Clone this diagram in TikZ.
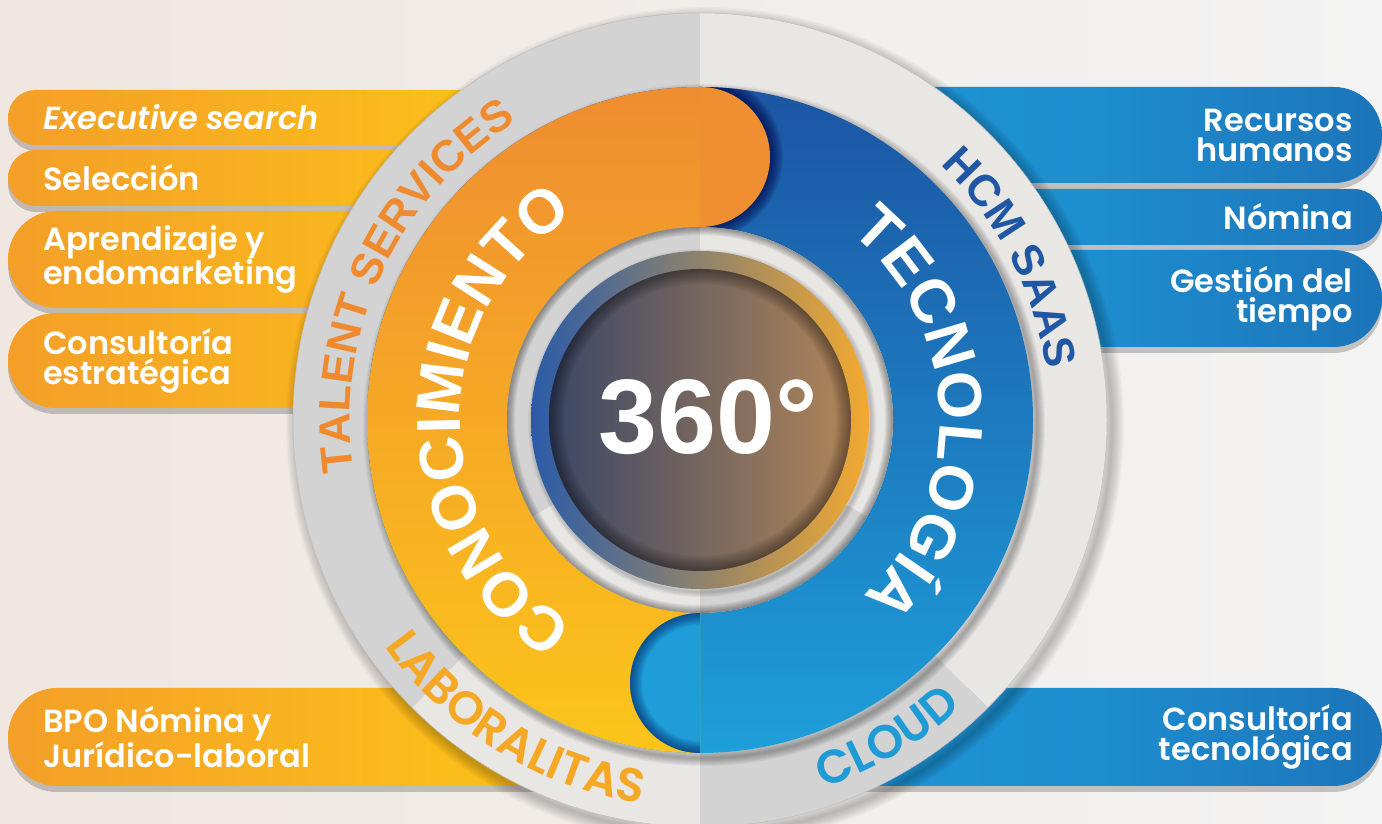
\documentclass[tikz,border=0pt]{standalone}
\usepackage{fontspec}
\setmainfont{Poppins}[BoldFont={Poppins SemiBold},BoldItalicFont={Poppins SemiBold Italic}]
\newfontfamily\ringfont{Liberation Sans}
\usetikzlibrary{decorations.text,shadows}

\definecolor{bgA}{HTML}{EFE7E0}
\definecolor{bgB}{HTML}{F3F3F3}
\definecolor{barA}{HTML}{EF8A31}
\definecolor{barB}{HTML}{FBBD1B}
\definecolor{blueA}{HTML}{1E9BD8}
\definecolor{blueB}{HTML}{1B5AA7}
\definecolor{ringdark}{HTML}{D3D3D3}
\definecolor{ringlight}{HTML}{E9E7E4}
\definecolor{orTop}{HTML}{EF8D31}
\definecolor{orBot}{HTML}{FCC51A}
\definecolor{blTop}{HTML}{1C55A3}
\definecolor{blBot}{HTML}{1E9FDA}
\definecolor{capOr}{HTML}{F08F31}
\definecolor{capBl}{HTML}{1E9DD8}
\definecolor{thinBl}{HTML}{2A5BA8}
\definecolor{thinMv}{HTML}{8B7B96}
\definecolor{thinOr}{HTML}{F3AA30}
\definecolor{spL}{HTML}{3B4766}
\definecolor{spM}{HTML}{968289}
\definecolor{spR}{HTML}{B08558}
\definecolor{talentOr}{HTML}{EF8A2F}
\definecolor{hcmBl}{HTML}{1F57A4}
\definecolor{labOr}{HTML}{F5A824}
\definecolor{cloudBl}{HTML}{1F9BD6}

\pgfdeclarehorizontalshading{barorange}{100bp}{color(0bp)=(barA); color(62bp)=(barB); color(100bp)=(barB)}
\pgfdeclarehorizontalshading{barblue}{100bp}{color(0bp)=(blueA); color(50bp)=(blueA!80!blueB); color(100bp)=(blueB)}

\begin{document}
\begin{tikzpicture}[x=1pt,y=1pt]
  \tikzset{
    bartext/.style={text=white, font=\bfseries\fontsize{32}{30}\selectfont, inner sep=0pt},
    barshadow/.style={drop shadow={shadow xshift=0pt, shadow yshift=-6pt, opacity=.2, fill=black}},
    ringlabel/.style 2 args={decorate, decoration={text along path, text align=center, text color=#1,
        text={|\ringfont\bfseries\fontsize{44}{44}\selectfont|#2}}},
    arclabel/.style 2 args={decorate, decoration={text along path, text align=center, text color=#1,
        text={|\bfseries\fontsize{47}{47}\selectfont|#2}}},
    bandlabel/.style={decorate, decoration={text along path, text align=center, text color=white,
        text={|\ringfont\bfseries\fontsize{62}{62}\selectfont|#1}}}
  }
  \useasboundingbox (0,0) rectangle (1382,824);
  \shade[left color=bgA, right color=bgB] (0,0) rectangle (1382,824);

  % left bars
  \foreach \yb/\yt/\nm/\txt in {679/734/exec/{\itshape Executive search}, 618/674/sel/Selección,
      516/613/apr/{Aprendizaje y\\endomarketing}, 416/511/cons/{Consultoría\\estratégica},
      38/136/bpo/{BPO Nómina y\\Jurídico-laboral}} {
    \pgfmathsetmacro\hr{(\yt-\yb)/2}
    \shade[shading=barorange, barshadow] ({8+\hr},\yb) -- (600,\yb) -- (600,\yt) -- ({8+\hr},\yt)
      arc[start angle=90, end angle=270, radius=\hr] -- cycle;
    \node[bartext, anchor=west, align=left] (\nm) at (43,{(\yb+\yt)/2}) {\txt};
  }
  % right bars
  \foreach \yb/\yt/\nm/\txt in {641/737/rh/{Recursos\\humanos}, 579/635/nom/Nómina,
      477/574/gt/{Gestión del\\tiempo}, 38/136/ct/{Consultoría\\tecnológica}} {
    \pgfmathsetmacro\hr{(\yt-\yb)/2}
    \shade[shading=barblue, barshadow] (800,\yb) -- ({1382-\hr},\yb)
      arc[start angle=-90, end angle=90, radius=\hr] -- (800,\yt) -- cycle;
    \node[bartext, anchor=east, align=right] (\nm) at (1353,{(\yb+\yt)/2}) {\txt};
  }

  \begin{scope}[shift={(700,404)}]
    % soft shadow of the disc
    \foreach \k in {1,...,10}
      \draw[black, opacity=.025, line width=\k*2.4pt] (5,-6) circle[radius=407];
    % outer ring
    \foreach \a/\b/\c in {90/225/ringdark, 225/270/ringlight, 270/315/ringdark, 315/450/ringlight}
      \fill[\c] (0,0) -- (\a:407) arc[start angle=\a, end angle=\b, radius=407] -- cycle;
    \draw[black!25, line width=.5pt] (0,0) circle[radius=407];
    \foreach \k in {1,...,8}
      \draw[black, opacity=.04, line width=\k*2pt] (4,-5) circle[radius=333];

    % band
    \shade[top color=blTop, bottom color=blBot, even odd rule]
      (0,0) circle[radius=333] (0,0) circle[radius=193];
    \shade[top color=orTop, bottom color=orBot] (90:333) arc[start angle=90, end angle=270, radius=333]
      -- (270:193) arc[start angle=270, end angle=90, radius=193] -- cycle;
    % top cap with its shadow
    \begin{scope}
      \clip (0,0) circle[radius=333];
      \clip (0,150) rectangle (150,340);
      \foreach \k in {1,...,10}
        \draw[black!75!blue, opacity=.09, line width=\k*2.6pt]
          (0,333) arc[start angle=90, end angle=-90, radius=70];
    \end{scope}
    \fill[capOr] (0,333) arc[start angle=90, end angle=-90, radius=70] -- cycle;
    % bottom cap with its shadow
    \fill[capBl] (0,-193) arc[start angle=90, end angle=270, radius=70] -- cycle;
    \begin{scope}
      \clip (0,-193) arc[start angle=90, end angle=270, radius=70] -- cycle;
      \foreach \k in {1,...,10}
        \draw[black!75!blue, opacity=.06, line width=\k*2.4pt]
          (0,-193) arc[start angle=90, end angle=270, radius=70];
    \end{scope}

    % inner ring
    \foreach \a/\b/\c in {90/210/ringdark, 210/270/ringlight, 270/330/ringdark, 330/450/ringlight}
      \fill[\c] (0,0) -- (\a:193) arc[start angle=\a, end angle=\b, radius=193] -- cycle;
    \begin{scope}
      \clip (0,0) circle[radius=193];
      \foreach \k in {1,...,8}
        \draw[black, opacity=.05, line width=\k*2pt] (0,0) circle[radius=193];
      \foreach \k in {1,...,5}
        \draw[black, opacity=.04, line width=\k*2pt] (2,-3) circle[radius=169];
    \end{scope}
    \shade[left color=thinBl, middle color=thinMv, right color=thinOr] (0,0) circle[radius=169];
    \shade[left color=spL, middle color=spM, right color=spR] (0,0) circle[radius=151];
    \begin{scope}
      \clip (0,0) circle[radius=151];
      \foreach \k in {1,...,10}
        \draw[black, opacity=.045, line width=\k*3pt] (0,0) circle[radius=151];
    \end{scope}
    \node[text=white, font=\ringfont\bfseries\fontsize{106}{106}\selectfont] (deg) at (8,3) {360°};

    % labels along the rings
    \path[bandlabel=CONOCIMIENTO] (250:240) arc[start angle=250, end angle=110, radius=240];
    \path[bandlabel=TECNOLOGÍA] (72:240) arc[start angle=72, end angle=-68, radius=240];
    \path[ringlabel={talentOr}{TALENT SERVICES}] (215:350) arc[start angle=215, end angle=95, radius=350];
    \path[ringlabel={hcmBl}{HCM SAAS}] (80:350) arc[start angle=80, end angle=-25, radius=350];
    \path[arclabel={labOr}{LABORALITAS}] (195:388) arc[start angle=195, end angle=282, radius=388];
    \path[arclabel={cloudBl}{CLOUD}] (270:388) arc[start angle=270, end angle=331, radius=388];
  \end{scope}
\end{tikzpicture}
\end{document}
